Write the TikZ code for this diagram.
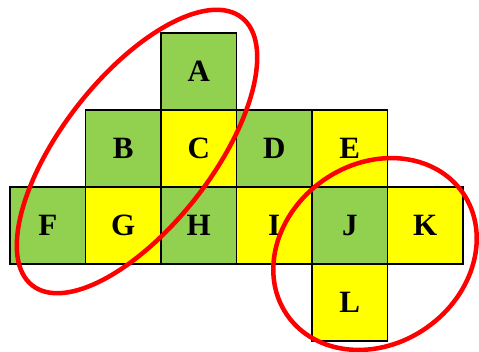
\documentclass[tikz,border=0pt]{standalone}
\usepackage{fontspec}
\setmainfont{Liberation Serif}
\usepackage{tikz}
\usetikzlibrary{positioning}
\definecolor{cellgreen}{RGB}{146,208,80}
\definecolor{cellyellow}{RGB}{255,255,0}
\definecolor{ringred}{RGB}{255,0,0}

\begin{document}
\begin{tikzpicture}[x=1pt, y=1pt,
    cell/.style    ={rectangle, draw=black, line width=1.5pt,
                     minimum width=75.5pt, minimum height=77pt,
                     inner sep=0pt, outer sep=0pt,
                     font=\bfseries\fontsize{31}{31}\selectfont},
    greencell/.style ={cell, fill=cellgreen},
    yellowcell/.style={cell, fill=cellyellow},
    ring/.style    ={draw=ringred, line width=4.5pt}
]
\useasboundingbox (0,0) rectangle (479,351);

% ============================================================
% CASES
% ============================================================

% -- rangee du bas --
\node[greencell]  (F) at (47.75, 125.5) {F};
\node[yellowcell, right=0 of F] (G) {G};
\node[greencell,  right=0 of G] (H) {H};
\node[yellowcell, right=0 of H] (I) {I};
\node[greencell,  right=0 of I] (J) {J};
\node[yellowcell, right=0 of J] (K) {K};

% -- rangee du milieu --
\node[greencell,  above=0 of G] (B) {B};
\node[yellowcell, right=0 of B] (C) {C};
\node[greencell,  right=0 of C] (D) {D};
\node[yellowcell, right=0 of D] (E) {E};

% -- haut et bas --
\node[greencell,  above=0 of C] (A) {A};
\node[yellowcell, below=0 of J] (L) {L};

% ============================================================
% ELLIPSES
% ============================================================

\draw[ring, rotate around={52:(137,199.5)}] (137,199.5) ellipse (170 and 75);
\draw[ring, rotate around={35:(375,97)}]    (375,97)    ellipse (107 and 90);

\end{tikzpicture}
\end{document}
